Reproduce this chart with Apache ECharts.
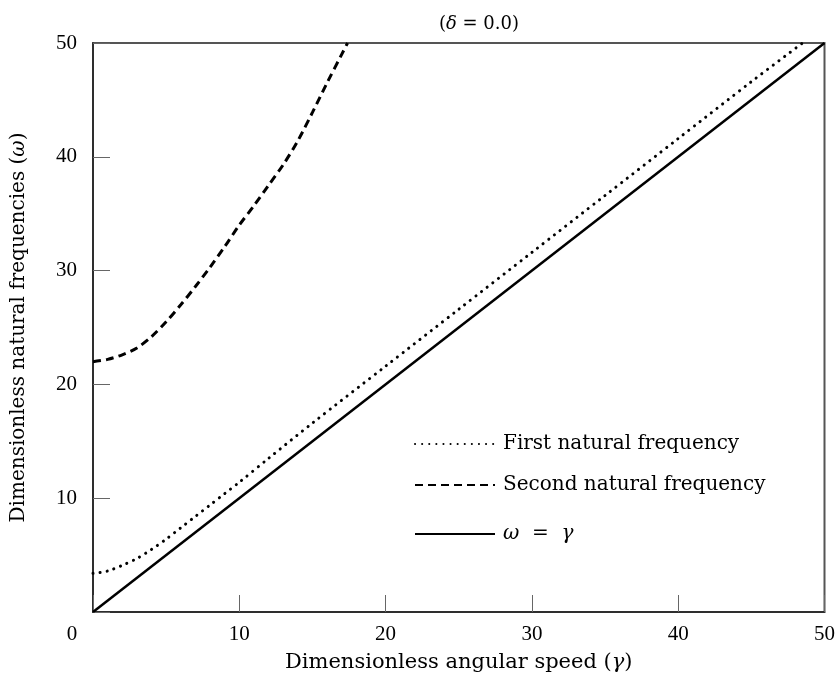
<!DOCTYPE html>
<html>
<head>
<meta charset="utf-8">
<script src="https://cdn.jsdelivr.net/npm/echarts@6/dist/echarts.min.js"></script>
<style>html,body{margin:0;padding:0;background:#fff;}#c{width:838px;height:683px;}</style>
</head>
<body>
<div id="c"></div>
<script>
// Data (gamma, omega)
var firstFreq = [[0,3.4],[1,3.6],[2,4.1],[3,4.7],[4,5.5],[5,6.4],[6,7.4],[7,8.4],[8,9.4],[9,10.4],[10,11.4],[12,13.5],[15,16.6],[20,21.6],[25,26.6],[30,31.6],[35,36.6],[40,41.6],[45,46.6],[48.5,50]];
var secondFreq = [[0,22.0],[1,22.2],[2,22.6],[3,23.2],[4,24.2],[5,25.5],[6,27.0],[7,28.6],[8,30.3],[9,32.1],[10,34.0],[11,35.7],[12,37.5],[13,39.3],[14,41.4],[15,43.9],[16,46.5],[17,49.0],[17.4,50]];
var identityLine = [[0,0],[50,50]];
var xTicks = [0,10,20,30,40,50];
var yTicks = [0,10,20,30,40,50];

var FONT = 'DejaVu Serif';
var NUMFONT = 'Liberation Serif';
var chart = echarts.init(document.getElementById('c'));
function it(sz){ return {fontFamily: FONT, fontSize: sz, fontStyle: 'italic', color: '#000'}; }
chart.setOption({
  backgroundColor: '#fff',
  animation: false,
  title: {
    text: '({i|δ} = 0.0)',
    left: 474, top: 10, textAlign: 'center',
    textStyle: {fontFamily: FONT, fontSize: 18, fontWeight: 'normal', color: '#000',
      rich: {i: it(18)}}
  },
  grid: {left: 93, right: 11, top: 43, bottom: 71, show: true, borderColor: '#555', borderWidth: 2},
  xAxis: {
    type: 'value', min: xTicks[0], max: xTicks[xTicks.length-1], interval: 10,
    name: 'Dimensionless angular speed ({i|γ})', nameLocation: 'middle', nameGap: 40,
    nameTextStyle: {fontFamily: FONT, fontSize: 21, color: '#000', rich: {i: it(21)}},
    axisLine: {show: true, lineStyle: {color: '#222', width: 1.5}},
    axisTick: {show: true, inside: true, length: 17, lineStyle: {color: '#666', width: 1}},
    splitLine: {show: false},
    axisLabel: {margin: 12, fontFamily: NUMFONT, fontSize: 21, color: '#000',
      formatter: function(v){ return v === 0 ? '{z|0}' : String(v); },
      rich: {z: {fontFamily: NUMFONT, fontSize: 21, color: '#000', padding: [0, 42, 0, 0]}}}
  },
  yAxis: {
    type: 'value', min: yTicks[0], max: yTicks[yTicks.length-1], interval: 10,
    name: 'Dimensionless natural frequencies ({i|ω})', nameLocation: 'middle', nameGap: 64,
    nameTextStyle: {fontFamily: FONT, fontSize: 20, color: '#000', rich: {i: it(20)}},
    axisLine: {show: true, lineStyle: {color: '#222', width: 1.5}},
    axisTick: {show: true, inside: true, length: 17, lineStyle: {color: '#666', width: 1}},
    splitLine: {show: false},
    axisLabel: {margin: 16, fontFamily: NUMFONT, fontSize: 21, color: '#000',
      formatter: function(v){ return v === 0 ? '' : String(v); }}
  },
  legend: [
    {data: ['First natural frequency'], left: 409, top: 429, itemWidth: 80, itemHeight: 14,
      itemStyle: {opacity: 0},
      textStyle: {fontFamily: FONT, fontSize: 20, color: '#000', padding: [0,0,0,3]}},
    {data: ['Second natural frequency'], left: 409, top: 470, itemWidth: 80, itemHeight: 14,
      itemStyle: {opacity: 0},
      textStyle: {fontFamily: FONT, fontSize: 20, color: '#000', padding: [0,0,0,3]}},
    {data: ['omega'], left: 409, top: 519, itemWidth: 80, itemHeight: 14,
      itemStyle: {opacity: 0},
      formatter: function(){ return '{i|ω}  =  {i|γ}'; },
      textStyle: {fontFamily: FONT, fontSize: 20, color: '#000', padding: [0,0,0,3],
        rich: {i: it(20)}}}
  ],
  series: [
    {name: 'First natural frequency', type: 'line', data: firstFreq, smooth: 0.3, symbol: 'none',
      itemStyle: {color: '#000'},
      lineStyle: {color: '#000', width: 3, type: [0.1, 7], cap: 'round'}},
    {name: 'Second natural frequency', type: 'line', data: secondFreq, smooth: 0.3, symbol: 'none',
      itemStyle: {color: '#000'},
      lineStyle: {color: '#000', width: 3, type: [8, 5], cap: 'butt'}},
    {name: 'omega', type: 'line', data: identityLine, symbol: 'none',
      itemStyle: {color: '#000'},
      lineStyle: {color: '#000', width: 2.5, type: 'solid'}}
  ]
});
</script>
</body>
</html>
